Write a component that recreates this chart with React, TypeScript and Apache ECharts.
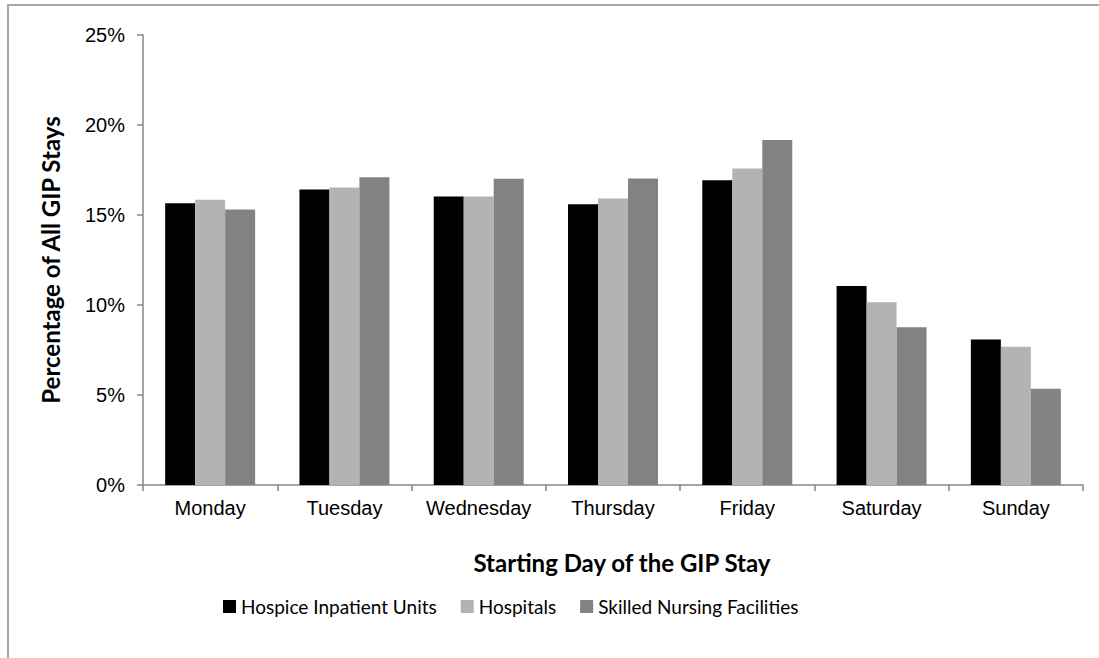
import React, { useEffect, useRef } from "react";
import * as echarts from "echarts";

const days = ["Monday", "Tuesday", "Wednesday", "Thursday", "Friday", "Saturday", "Sunday"];
const hospiceUnits = [15.65, 16.42, 16.03, 15.6, 16.93, 11.06, 8.08];
const hospitals = [15.85, 16.53, 16.03, 15.92, 17.58, 10.15, 7.68];
const snf = [15.31, 17.1, 17.01, 17.03, 19.17, 8.76, 5.35];
const seriesNames = ["Hospice Inpatient Units", "Hospitals", "Skilled Nursing Facilities"];
const colors = ["#000000", "#b3b3b3", "#828282"];

export default function App() {
  const ref = useRef<HTMLDivElement>(null);
  useEffect(() => {
    if (!ref.current) return;
    const chart = echarts.init(ref.current, undefined, { renderer: "svg" });
    const data = [hospiceUnits, hospitals, snf];
    chart.setOption({
      animation: false,
      backgroundColor: "#ffffff",
      color: colors,
      grid: { left: 143, right: 16, top: 35, bottom: 173, containLabel: false },
      legend: {
        left: 218,
        top: 592,
        icon: "rect",
        itemWidth: 13,
        itemHeight: 13,
        itemGap: 24,
        textStyle: { fontFamily: "Lato", fontSize: 19, color: "#000" },
        data: seriesNames,
      },
      xAxis: {
        type: "category",
        data: days,
        axisLine: { lineStyle: { color: "#868686", width: 1.5 } },
        axisTick: { show: true, interval: 0, length: 6, lineStyle: { color: "#868686", width: 1.5 } },
        axisLabel: { interval: 0, fontFamily: "Liberation Sans", fontSize: 20, color: "#000", margin: 13 },
      },
      yAxis: {
        type: "value",
        min: 0,
        max: 25,
        interval: 5,
        name: "Percentage of All GIP Stays",
        nameLocation: "middle",
        nameGap: 81,
        nameTextStyle: { fontFamily: "Lato", fontWeight: "bold", fontSize: 24, color: "#000" },
        axisLine: { show: true, lineStyle: { color: "#868686", width: 1.5 } },
        axisTick: { show: true, length: 6, lineStyle: { color: "#868686", width: 1.5 } },
        splitLine: { show: false },
        axisLabel: {
          fontFamily: "Liberation Sans",
          fontSize: 20,
          color: "#000",
          margin: 18,
          formatter: "{value}%",
        },
      },
      graphic: [
        {
          type: "rect",
          shape: { x: 8, y: 5, width: 1300, height: 800 },
          style: { fill: "none", stroke: "#a8a8a8", lineWidth: 2 },
          silent: true,
        },
        {
          type: "text",
          x: 622,
          y: 562,
          style: {
            text: "Starting Day of the GIP Stay",
            fontFamily: "Lato",
            fontWeight: "bold",
            fontSize: 24,
            fill: "#000",
            align: "center",
            verticalAlign: "middle",
          },
        },
      ],
      series: seriesNames.map((name, i) => ({
        name,
        type: "bar",
        data: data[i],
        barGap: "0%",
        barCategoryGap: "33%",
        itemStyle: { color: colors[i] },
      })),
    });
    return () => chart.dispose();
  }, []);
  return (
    <div
      ref={ref}
      style={{ position: "fixed", left: 0, top: 0, width: 1099, height: 658 }}
    />
  );
}
